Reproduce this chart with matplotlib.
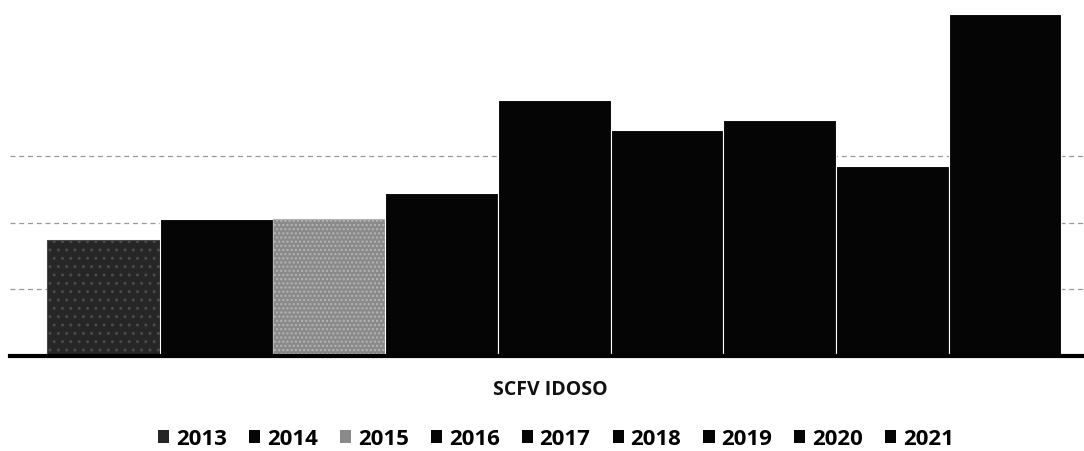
import matplotlib
matplotlib.use("Agg")
import matplotlib.pyplot as plt
from matplotlib.patches import Patch

years = ["2013", "2014", "2015", "2016", "2017", "2018", "2019", "2020", "2021"]
values = [87, 103, 103, 122, 192, 169, 177, 142, 256]
colors = ["#262626", "#050505", "#8a8a8a", "#050505", "#050505",
          "#050505", "#050505", "#050505", "#050505"]
category = "SCFV IDOSO"

plt.rcParams['font.family'] = ['Open Sans', 'DejaVu Sans']

fig = plt.figure(figsize=(10.84, 4.52), dpi=100)
ax = fig.add_axes([10/1084, 95/452, 1074/1084, 347/452])

x = list(range(len(years)))
bars = ax.bar(x, values, width=1.0, color=colors, edgecolor="white", linewidth=0.8, zorder=3)
bars[0].set_hatch("..")
bars[0].set_edgecolor("#4a4a4a")
bars[2].set_hatch("....")
bars[2].set_edgecolor("#b5b5b5")

ax.set_xlim(-0.83, 8.70)
ax.set_ylim(0, 260)
ax.set_yticks([50, 100, 150])
ax.yaxis.grid(True, color="#9a9a9a", linestyle=(0, (4, 3)), linewidth=0.9, zorder=0)
ax.tick_params(left=False, bottom=False, labelleft=False, labelbottom=False)
for s in ["top", "right", "left"]:
    ax.spines[s].set_visible(False)
ax.spines["bottom"].set_linewidth(3)
ax.spines["bottom"].set_color("black")
ax.spines["bottom"].set_zorder(4)

fig.text(550/1084, 1 - 390/452, category, ha="center", va="center",
         fontsize=14, fontweight="bold", color="#111111")

handles = [Patch(facecolor=c, edgecolor="none") for c in colors]
handles[0].set_hatch("..")
handles[2].set_hatch("..")
fig.legend(handles, years, loc="center", bbox_to_anchor=(556/1084, 1 - 440/452),
           ncol=9, frameon=False, prop={"size": 16, "weight": "bold"},
           handlelength=0.5, handleheight=0.5, handletextpad=0.3, columnspacing=1.0,
           borderpad=0, borderaxespad=0)

fig.savefig("out.png", dpi=100)
